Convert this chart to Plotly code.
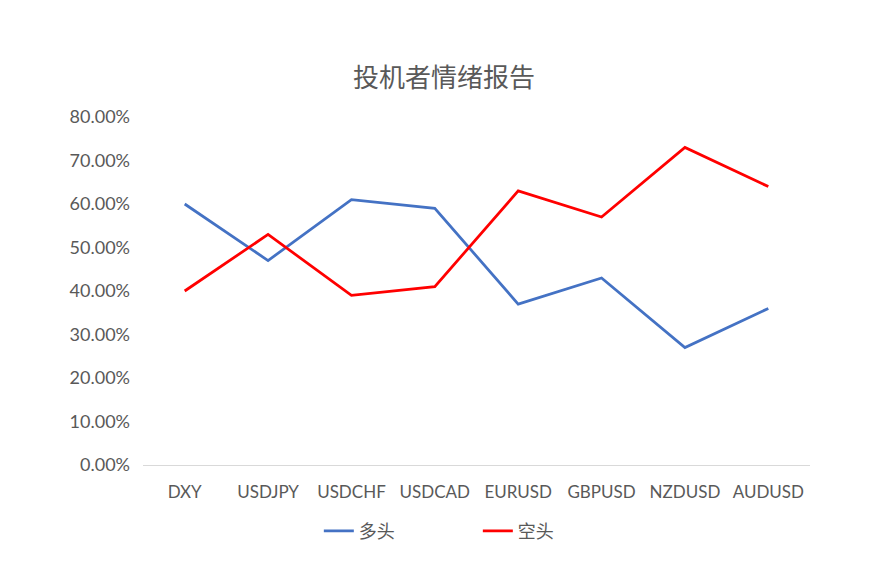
import plotly.graph_objects as go

# 投机者情绪报告 data
pairs = ['DXY', 'USDJPY', 'USDCHF', 'USDCAD', 'EURUSD', 'GBPUSD', 'NZDUSD', 'AUDUSD']
long_pct = [0.60, 0.47, 0.61, 0.59, 0.37, 0.43, 0.27, 0.36]
short_pct = [0.40, 0.53, 0.39, 0.41, 0.63, 0.57, 0.73, 0.64]
y_ticks = [0, 0.1, 0.2, 0.3, 0.4, 0.5, 0.6, 0.7, 0.8]

fig = go.Figure()
fig.add_trace(go.Scatter(x=pairs, y=long_pct, mode='lines', name='多头',
                         line=dict(color='#4472C4', width=2.75)))
fig.add_trace(go.Scatter(x=pairs, y=short_pct, mode='lines', name='空头',
                         line=dict(color='#FF0000', width=2.75)))

# page body adds an 8px offset, so margins are shifted to compensate
fig.update_layout(
    width=890, height=564,
    paper_bgcolor='white', plot_bgcolor='white',
    margin=dict(l=135, r=88, t=109, b=107),
    font=dict(family='Lato, "Noto Sans CJK SC"', size=16, color='#595959'),
    title=dict(text='投机者情绪报告', x=0.49, xanchor='center', y=0.876, yanchor='middle',
               font=dict(family='"Noto Sans CJK SC"', size=26, color='#595959')),
    xaxis=dict(type='category', range=[-0.5, 7.5], showgrid=False, showline=True,
               linecolor='#D9D9D9', linewidth=1, ticks='', ticklabelstandoff=12, zeroline=False,
               tickfont=dict(size=17)),
    yaxis=dict(range=[0, 0.8], tickvals=y_ticks, tickformat='.2%', showgrid=False,
               zeroline=False, showline=False, ticks='', ticklabelstandoff=12,
               tickfont=dict(size=18)),
    legend=dict(orientation='h', x=0.502, xanchor='center', y=-0.19, yanchor='middle',
                font=dict(family='"Noto Sans CJK SC"', size=18, color='#595959'),
                itemwidth=30, tracegroupgap=0, entrywidthmode='pixels', entrywidth=114),
)

fig.write_html("out.html")
